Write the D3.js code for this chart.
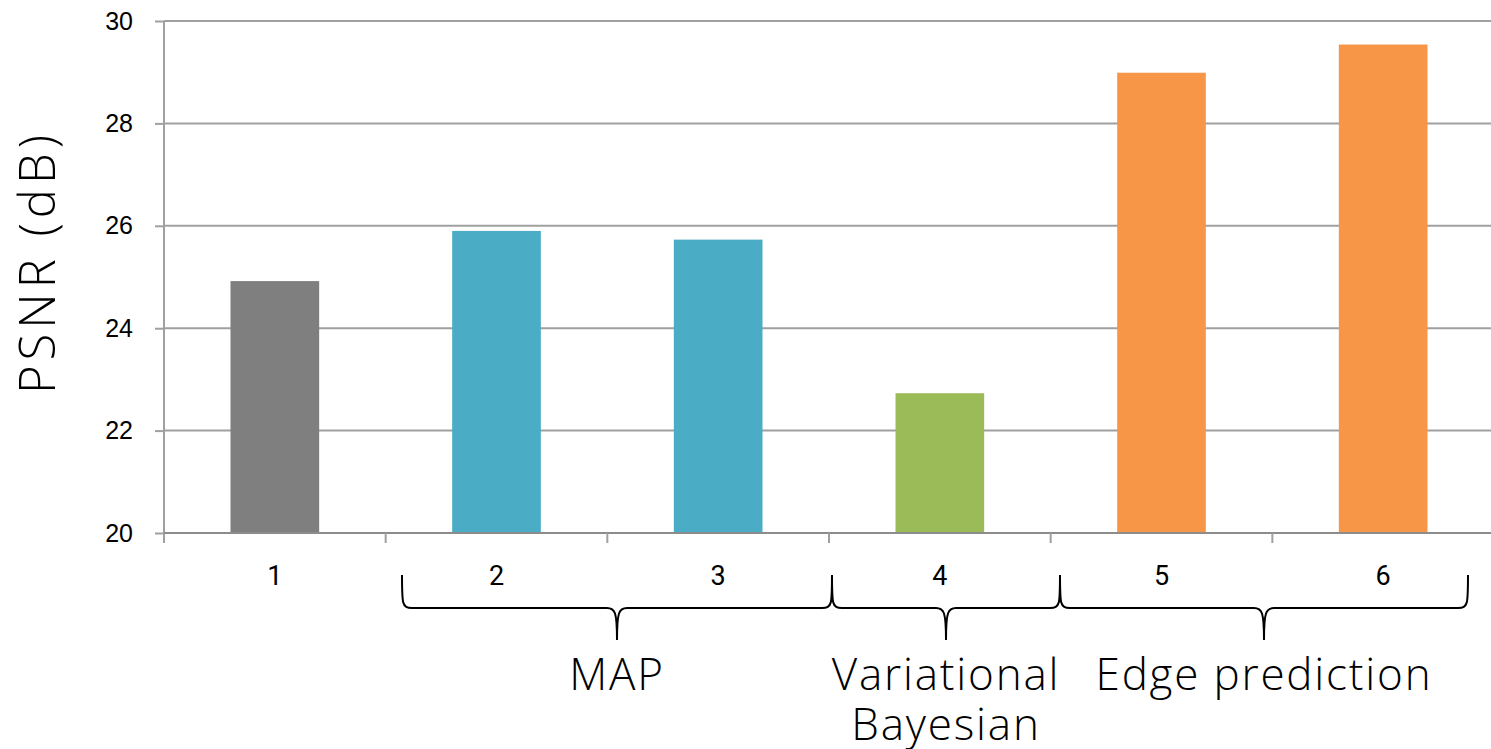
<!DOCTYPE html>
<html>
<head>
<meta charset="utf-8">
<script src="https://cdn.jsdelivr.net/npm/d3@7"></script>
<style>
  body { margin: 0; background: #fff; }
  svg { display: block; }
</style>
</head>
<body>
<script>
// data
var categories = ["1", "2", "3", "4", "5", "6"];
var psnr = [24.92, 25.9, 25.73, 22.73, 28.99, 29.54];
var barColors = ["#7f7f7f", "#4bacc6", "#4bacc6", "#9bbb59", "#f79646", "#f79646"];
var yTicks = [20, 22, 24, 26, 28, 30];
var groups = [
  {name: ["MAP"], from: "2", to: "3"},
  {name: ["Variational", "Bayesian"], from: "4", to: "4"},
  {name: ["Edge prediction"], from: "5", to: "6"}
];

var width = 1491, height = 749;
var plotLeft = 164, plotRight = 1494, plotTop = 21, plotBottom = 533;

var svg = d3.select("body").append("svg")
    .attr("width", width)
    .attr("height", height);

var x = d3.scaleBand()
    .domain(categories)
    .range([plotLeft, plotRight])
    .paddingInner(0.6)
    .paddingOuter(0.3);

var y = d3.scaleLinear()
    .domain([20, 30])
    .range([plotBottom, plotTop]);

//gridlines
svg.append("g")
    .selectAll("line")
    .data(yTicks.slice(1))
    .enter().append("line")
        .attr("x1", plotLeft).attr("x2", width)
        .attr("y1", function(d){ return y(d); })
        .attr("y2", function(d){ return y(d); })
        .attr("stroke", "#a0a0a0")
        .attr("stroke-width", 2);

//bars
svg.append("g")
    .selectAll("rect")
    .data(psnr)
    .enter().append("rect")
        .attr("x", function(d,i){ return x(categories[i]); })
        .attr("y", function(d){ return y(d); })
        .attr("width", x.bandwidth())
        .attr("height", function(d){ return plotBottom - y(d); })
        .attr("fill", function(d,i){ return barColors[i]; });

//y axis
var yAxis = svg.append("g")
    .attr("transform", "translate(" + plotLeft + ",0)")
    .call(d3.axisLeft(y).tickValues(yTicks).tickSize(9).tickPadding(22));
yAxis.select(".domain").attr("d", "M0," + plotTop + "V" + (plotBottom + 10));
yAxis.selectAll("line, path").attr("stroke", "#a0a0a0").attr("stroke-width", 2);
yAxis.selectAll("text")
    .attr("font-family", "'Liberation Sans', Arial, sans-serif")
    .attr("font-size", 25)
    .attr("fill", "#000");

//x axis: ticks on category boundaries
var boundaries = categories.map(function(c){ return x(c) - x.bandwidth() * 0.75; });
var xAxis = svg.append("g")
    .attr("transform", "translate(0," + plotBottom + ")");
xAxis.append("line")
    .attr("x1", plotLeft).attr("x2", width)
    .attr("stroke", "#8c8c8c").attr("stroke-width", 2);
xAxis.selectAll("line.tick")
    .data(boundaries.slice(1))
    .enter().append("line")
        .attr("class", "tick")
        .attr("x1", function(d){ return d; })
        .attr("x2", function(d){ return d; })
        .attr("y1", 0).attr("y2", 10)
        .attr("stroke", "#a0a0a0").attr("stroke-width", 2);
xAxis.selectAll("text")
    .data(categories)
    .enter().append("text")
        .attr("x", function(d){ return x(d) + x.bandwidth() / 2; })
        .attr("y", 52)
        .attr("text-anchor", "middle")
        .attr("font-family", "Roboto, sans-serif")
        .attr("font-size", 27)
        .text(function(d){ return d; });

//axis title
svg.append("text")
    .attr("transform", "translate(55,262) rotate(-90)")
    .attr("text-anchor", "middle")
    .attr("font-family", "'Open Sans', sans-serif")
    .attr("font-weight", 300)
    .attr("font-size", 49)
    .attr("letter-spacing", 5)
    .attr("fill", "#000")
    .text("PSNR (dB)");

//braces under the groups
var braceTop = 575, braceMid = 608, braceTip = 640;
var edges = [402, 832, 1060, 1468];
function brace(x0, x1) {
  var xm = (x0 + x1) / 2, r = 10;
  return "M" + x0 + "," + braceTop +
    "C" + x0 + "," + (braceMid - 4) + " " + x0 + "," + braceMid + " " + (x0 + r) + "," + braceMid +
    "L" + (xm - r) + "," + braceMid +
    "C" + (xm - 2) + "," + braceMid + " " + xm + "," + (braceMid + 4) + " " + xm + "," + braceTip +
    "C" + xm + "," + (braceMid + 4) + " " + (xm + 2) + "," + braceMid + " " + (xm + r) + "," + braceMid +
    "L" + (x1 - r) + "," + braceMid +
    "C" + x1 + "," + braceMid + " " + x1 + "," + (braceMid - 4) + " " + x1 + "," + braceTop;
}
var gGroups = svg.append("g");
groups.forEach(function(g, i){
  var x0 = edges[i], x1 = edges[i + 1];
  gGroups.append("path")
      .attr("d", brace(x0, x1))
      .attr("fill", "none")
      .attr("stroke", "#000")
      .attr("stroke-width", 2);
  var t = gGroups.append("text")
      .attr("text-anchor", "middle")
      .attr("font-family", "'Open Sans', sans-serif")
      .attr("font-weight", 300)
      .attr("font-size", 44)
      .attr("letter-spacing", 1.8)
      .attr("fill", "#000");
  g.name.forEach(function(line, j){
    t.append("tspan")
        .attr("x", (x0 + x1) / 2)
        .attr("y", 690 + j * 50)
        .text(line);
  });
});
</script>
</body>
</html>
